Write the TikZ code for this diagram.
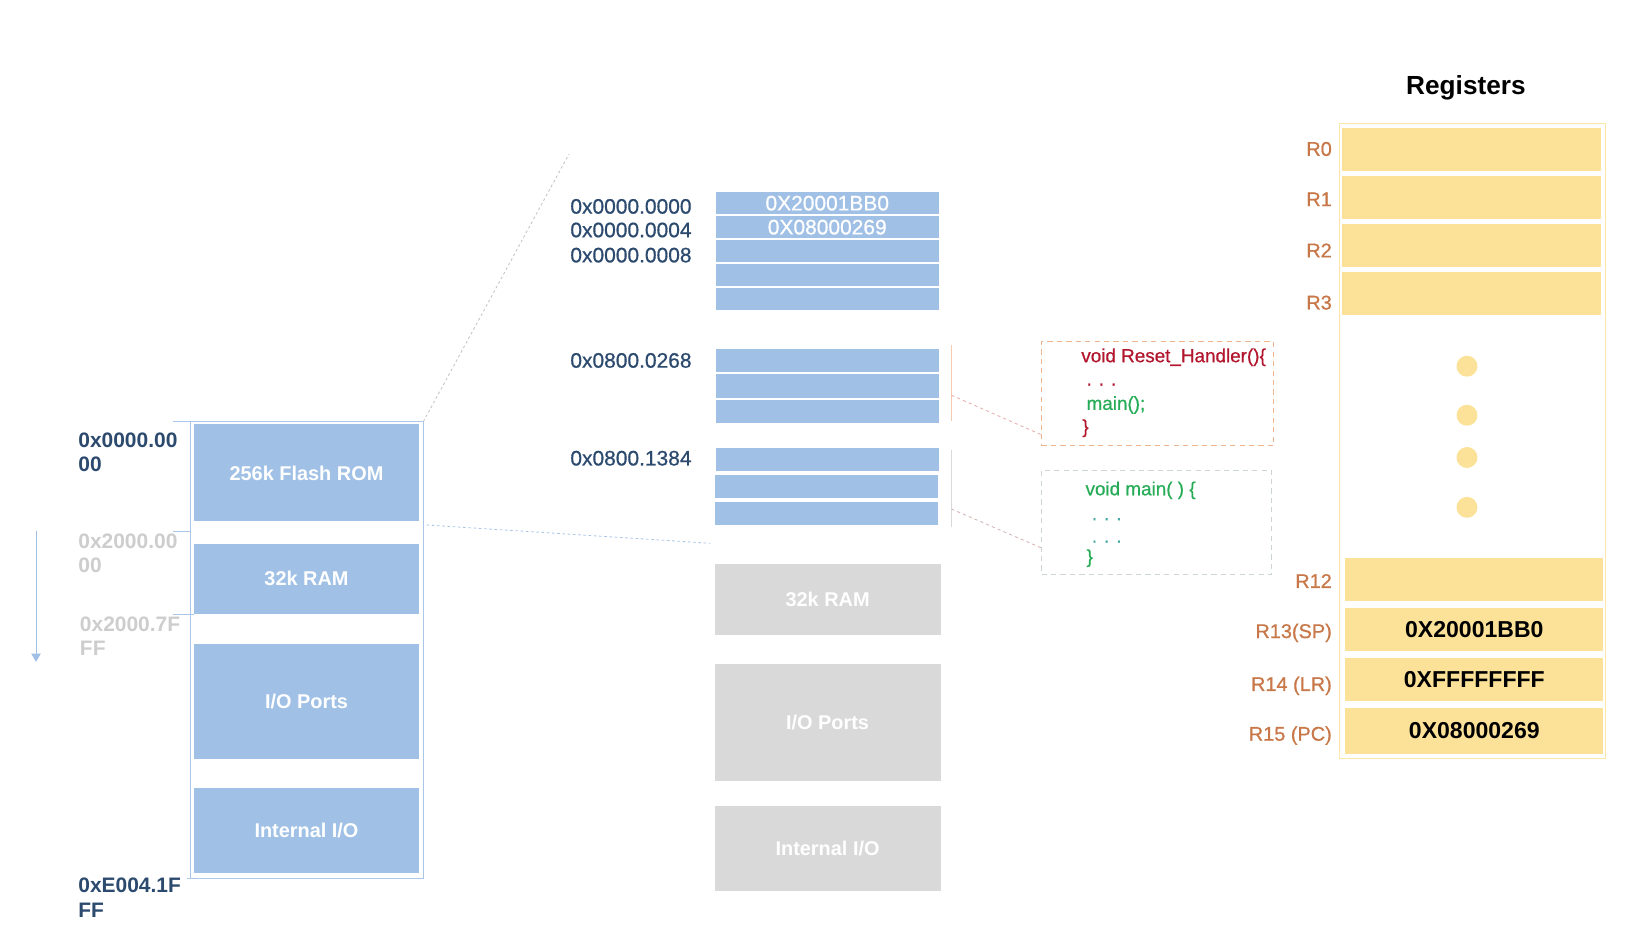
\documentclass[tikz,border=0pt]{standalone}
\usepackage{fontspec}
\setmainfont{Liberation Sans}
\newfontfamily\medfont{Liberation Sans}[FakeBold=0.7]
\usetikzlibrary{positioning, arrows.meta, calc}

\definecolor{memblue}{RGB}{160,193,229}
\definecolor{mapline}{RGB}{170,199,233}
\definecolor{addrnavy}{RGB}{44,74,110}
\definecolor{addrfaint}{RGB}{205,205,205}
\definecolor{blockgray}{RGB}{217,217,217}
\definecolor{regyellow}{RGB}{252,226,152}
\definecolor{regline}{RGB}{252,230,170}
\definecolor{regtext}{RGB}{200,120,72}
\definecolor{codered}{RGB}{178,22,45}
\definecolor{codegreen}{RGB}{38,172,86}
\definecolor{codeteal}{RGB}{70,170,165}
\definecolor{rstorange}{RGB}{240,180,140}
\definecolor{maingray}{RGB}{205,212,212}
\definecolor{linkpink}{RGB}{232,172,172}
\definecolor{projgray}{RGB}{195,195,195}

\begin{document}
\begin{tikzpicture}[x=1pt, y=-1pt,
  every node/.style={inner sep=0pt, outer sep=0pt},
  memblock/.style={fill=memblue, minimum width=215pt, text=white,
    font=\fontsize{19}{22}\selectfont\bfseries},
  grayblock/.style={fill=blockgray, minimum width=215.6pt, text=white,
    font=\fontsize{19}{22}\selectfont\bfseries},
  vecrow/.style={fill=memblue, minimum width=213pt, minimum height=20.7pt, text=white,
    font=\medfont\fontsize{20}{24}\selectfont},
  coderow/.style={fill=memblue, minimum width=213pt, minimum height=22pt},
  maplabel/.style={anchor=west, align=left, font=\fontsize{20}{23.5}\selectfont\bfseries},
  addrlabel/.style={anchor=east, text=addrnavy, font=\medfont\fontsize{20}{24}\selectfont},
  regrow/.style={fill=regyellow, minimum height=41pt, font=\fontsize{22}{26}\selectfont\bfseries},
  reglabel/.style={anchor=east, text=regtext, font=\medfont\fontsize{19}{23}\selectfont},
  regdot/.style={circle, fill=regyellow, minimum size=20pt},
  codeline/.style={anchor=west, font=\medfont\fontsize{18}{22}\selectfont},
  projline/.style={line width=0.8pt, dash pattern=on 2.5pt off 2.5pt},
  linkline/.style={linkpink, line width=0.8pt, dash pattern=on 3pt off 3pt}
]
\useasboundingbox (0,0) rectangle (1568,887.5);

% Left - full memory map
\node[draw=mapline, line width=1pt, minimum width=222pt, minimum height=435.6pt] (mapframe) at (293,620.2) {};
\node[memblock, minimum height=92.6pt] (flash) at (292.5,451.3) {256k Flash ROM};
\node[memblock, minimum height=66.7pt] (ram) at (292.5,552.4) {32k RAM};
\node[memblock, minimum height=110pt] (ioports) at (292.5,669.3) {I/O Ports};
\node[memblock, minimum height=80.5pt] (intio) at (292.5,792.6) {Internal I/O};

\node[maplabel, text=addrnavy] (a0) at (74.8,431.6) {0x0000.00\\00};
\node[maplabel, text=addrfaint] (a1) at (74.8,528.1) {0x2000.00\\00};
\node[maplabel, text=addrfaint] (a2) at (76.3,607.1) {0x2000.7F\\FF};
\node[maplabel, text=addrnavy] (a3) at (74.8,856.8) {0xE004.1F\\FF};

\draw[mapline] (mapframe.north west) -- ++(-17,0);
\draw[mapline] (182,506.9) -- ++(-17,0);
\draw[mapline] (185,585.7) -- ++(-20,0);
\draw[mapline] (mapframe.south west) -- ++(-4,0);

\coordinate (arrtop) at (34.4,506.9);
\coordinate (arrbot) at (34.4,631.7);
\draw[memblue, line width=1pt, -{Triangle[width=9pt,length=8pt]}] (arrtop) -- (arrbot);

% Middle - flash expanded
\node[vecrow] (vec0) at (789.5,193.9) {0X20001BB0};
\node[vecrow, below=2.2pt of vec0] (vec1) {0X08000269};
\node[vecrow, below=2.2pt of vec1] (vec2) {};
\node[vecrow, below=2.2pt of vec2] (vec3) {};
\node[vecrow, below=2.2pt of vec3] (vec4) {};

\node[coderow] (rst0) at (789.5,344) {};
\node[coderow, below=2.4pt of rst0] (rst1) {};
\node[coderow, below=2.4pt of rst1] (rst2) {};

\node[coderow] (mn0) at (789.5,438.8) {};
\node[coderow, below=3.5pt of mn0, xshift=-1pt] (mn1) {};
\node[coderow, below=3.5pt of mn1] (mn2) {};

\node[addrlabel] (l0) at (660,197) {0x0000.0000};
\node[addrlabel] (l1) at (660,219.5) {0x0000.0004};
\node[addrlabel] (l2) at (660,243.5) {0x0000.0008};
\node[addrlabel] (l3) at (660,344) {0x0800.0268};
\node[addrlabel] (l4) at (660,437.3) {0x0800.1384};

\node[grayblock, minimum height=67.5pt] (ram2) at (789.8,572.3) {32k RAM};
\node[grayblock, minimum height=111pt] (io2) at (789.8,689.5) {I/O Ports};
\node[grayblock, minimum height=81pt] (int2) at (789.8,809.5) {Internal I/O};

% Projection lines
\coordinate (zoomtop) at (543,147);
\coordinate (zoombot) at (678,518.5);
\draw[projline, projgray] (mapframe.north east) -- (zoomtop);
\draw[projline, mapline] ([xshift=7pt,yshift=-3.4pt]flash.south east) -- (zoombot);

% Code boxes
\coordinate (rstbartop) at (908,329);
\coordinate (rstbarbot) at (908,402);
\coordinate (mnbartop) at (908,429.4);
\coordinate (mnbarbot) at (908,502.6);
\draw[rstorange!70, line width=0.8pt] (rstbartop) -- (rstbarbot);
\draw[blockgray, line width=0.8pt] (mnbartop) -- (mnbarbot);

\node[draw=rstorange, line width=1pt, dash pattern=on 5pt off 4pt,
  minimum width=221pt, minimum height=99.6pt] (rstcode) at (1104.5,375.8) {};
\node[draw=maingray, line width=1pt, dash pattern=on 5pt off 4pt,
  minimum width=219.5pt, minimum height=100pt] (maincode) at (1103.8,498.6) {};

\node[codeline, text=codered] (c1) at (1032,341) {void Reset\_Handler()\{};
\node[codeline, text=codered] (c2) at (1037,367) {. . .};
\node[codeline, text=codegreen] (c3) at (1037,386.5) {main();};
\node[codeline, text=codered] (c4) at (1033,408.7) {\}};

\node[codeline, text=codegreen] (m1) at (1036,468) {void main( ) \{};
\node[codeline, text=codeteal] (m2) at (1042,495.5) {. . .};
\node[codeline, text=codeteal] (m3) at (1042,517) {. . .};
\node[codeline, text=codegreen] (m4) at (1037,532.7) {\}};

\draw[linkline] ($(rstbartop)!0.66!(rstbarbot)$) -- ($(rstcode.south west)+(0,-10.6)$);
\draw[linkline, linkpink!70!gray!80] ($(mnbartop)!0.77!(mnbarbot)$) -- ($(maincode.south west)+(0,-25.6)$);

% Right - registers
\node[font=\fontsize{25}{30}\selectfont\bfseries] (regtitle) at (1399,83.6) {Registers};
\node[draw=regline, line width=1pt, minimum width=254pt, minimum height=606pt] (regframe) at (1405,421) {};

\node[regrow, minimum width=247pt] (r0) at (1404.5,142.5) {};
\node[regrow, minimum width=247pt, below=5pt of r0] (r1) {};
\node[regrow, minimum width=247pt, below=5pt of r1] (r2) {};
\node[regrow, minimum width=247pt, below=5pt of r2] (r3) {};

\node[regdot] (d1) at (1400,349.5) {};
\node[regdot] (d2) at (1400,396.3) {};
\node[regdot] (d3) at (1400,436.6) {};
\node[regdot] (d4) at (1400,484.2) {};

\node[regrow, minimum width=246pt] (r12) at (1407,553.5) {};
\node[regrow, minimum width=246pt, below=6.5pt of r12] (r13) {0X20001BB0};
\node[regrow, minimum width=246pt, below=6.5pt of r13] (r14) {0XFFFFFFFF};
\node[regrow, minimum width=246pt, minimum height=44pt, below=6.5pt of r14] (r15) {0X08000269};

\node[reglabel] (lr0) at (1271,142.2) {R0};
\node[reglabel] (lr1) at (1271,190.2) {R1};
\node[reglabel] (lr2) at (1271,239) {R2};
\node[reglabel] (lr3) at (1271,288.8) {R3};
\node[reglabel] (lr12) at (1271,554.5) {R12};
\node[reglabel] (lr13) at (1271,604) {R13(SP)};
\node[reglabel] (lr14) at (1271,654.5) {R14 (LR)};
\node[reglabel] (lr15) at (1271,702) {R15 (PC)};
\end{tikzpicture}
\end{document}
